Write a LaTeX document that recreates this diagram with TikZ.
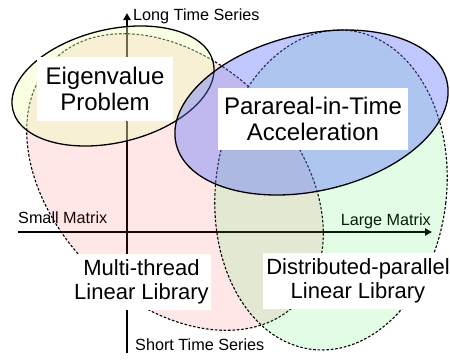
\documentclass[tikz,border=0pt]{standalone}
\usepackage{fontspec}
\setmainfont{Liberation Sans}
\usetikzlibrary{arrows.meta}

\definecolor{setpink}{RGB}{255,40,40}
\definecolor{setgreen}{RGB}{30,230,60}
\definecolor{setyellow}{RGB}{237,254,184}
\definecolor{setblue}{RGB}{90,110,255}

\tikzset{
  axisline/.style={line width=1.8pt, -{Triangle[length=7pt,width=7pt]}},
  axislabel/.style={inner sep=0pt, font=\fontsize{16.2}{18}\selectfont},
  softset/.style={draw=black, line width=1.1pt, dash pattern=on 2.6pt off 1.8pt},
  hardset/.style={draw=black, line width=1.3pt},
  topic/.style={fill=white, inner sep=0pt, align=center,
    font=\fontsize{24}{26.5}\selectfont},
  subtopic/.style={fill=white, inner sep=0pt, align=center,
    font=\fontsize{22}{23.5}\selectfont},
}

\begin{document}
\begin{tikzpicture}[x=1pt,y=1pt]
  \useasboundingbox (0,0) rectangle (450,-359);

  % axes
  \coordinate (xstart) at (18,-232);
  \coordinate (xend) at (432,-232);
  \coordinate (ystart) at (127,-353);
  \coordinate (yend) at (127,-13);
  \draw[axisline] (xstart) -- (xend);
  \draw[axisline] (ystart) -- (yend);

  \node[axislabel, anchor=base west] (long) at (133,-20) {Long Time Series};
  \node[axislabel, anchor=base west] (short) at (135,-350) {Short Time Series};
  \node[axislabel, anchor=base west] (small) at (18,-223) {Small Matrix};
  \node[axislabel, anchor=base east] (large) at (431,-225) {Large Matrix};

  % overlapping sets
  \path[softset, fill=setpink, fill opacity=0.11]
    (175,-182) ellipse [x radius=172, y radius=120, rotate=-45];
  \path[softset, fill=setgreen, fill opacity=0.13]
    (331,-190) ellipse [x radius=115.5, y radius=160.5, rotate=-6.7];
  \path[hardset, fill=setyellow, fill opacity=0.4]
    (113,-86) ellipse [x radius=103, y radius=56.6, rotate=13.4];
  \path[hardset, fill=setblue, fill opacity=0.38]
    (311.5,-112.5) ellipse [x radius=139, y radius=78.4, rotate=12.9];

  % labels
  \node[topic, minimum width=136pt, minimum height=64pt] (eigen) at (105,-89)
    {Eigenvalue\\Problem};
  \node[topic, minimum width=190pt, minimum height=62pt] (para) at (313,-119)
    {Parareal-in-Time\\Acceleration};
  \node[subtopic, minimum width=139pt, minimum height=56pt] (multi) at (141.5,-282)
    {Multi-thread\\Linear Library};
  \node[subtopic, minimum width=190pt, minimum height=56pt] (dist) at (358,-281)
    {Distributed-parallel\\Linear Library};
\end{tikzpicture}
\end{document}
